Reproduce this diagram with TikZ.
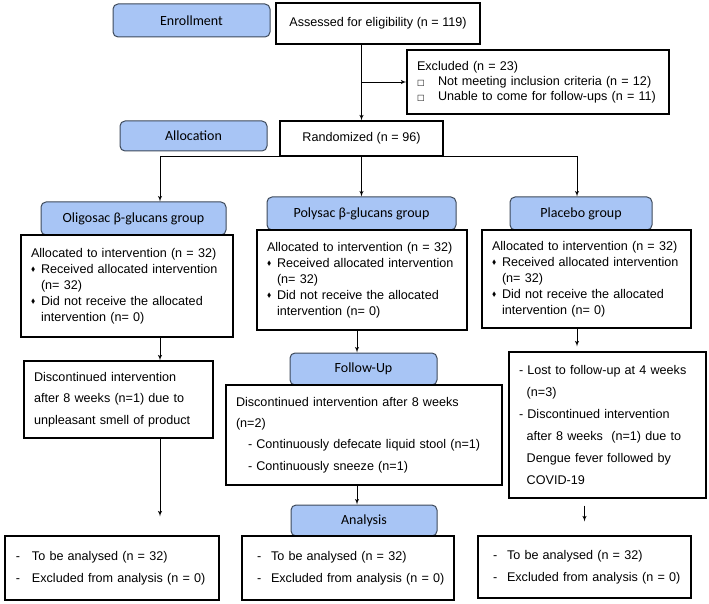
\documentclass[tikz,border=0pt]{standalone}
\usepackage{fontspec}
\usepackage{amssymb}
\setmainfont{Liberation Sans}
\newfontfamily\headfont{Carlito}
\newfontfamily\symfont{DejaVu Sans}
\usetikzlibrary{shapes,arrows,positioning,calc}
\definecolor{headblue}{RGB}{168,197,245}
\definecolor{headedge}{RGB}{62,74,90}
\newcommand{\dmd}{\makebox[10pt][l]{\raisebox{1.8pt}{\scalebox{0.5}{$\blacklozenge$}}}}
\newcommand{\sqb}{\makebox[21pt][l]{{\symfont\fontsize{8}{8}\selectfont □}}}
\newcommand{\dsh}[1]{\makebox[#1][l]{-}}

\begin{document}
\begin{tikzpicture}[
  x=1pt, y=-1pt,
  phase/.style={draw=headedge, fill=headblue, rounded corners=5pt, line width=1pt,
                inner sep=0pt, align=center, font=\headfont\fontsize{14}{16}\selectfont},
  panel/.style={draw, line width=1.1pt, fill=white, inner xsep=10pt, inner ysep=0pt,
                align=left, font=\fontsize{12.6}{16}\selectfont},
  result/.style={panel, inner xsep=6pt, minimum height=64pt, font=\fontsize{12.6}{22}\selectfont},
  arr/.style={-latex', line width=0.9pt},
]
\useasboundingbox (0,0) rectangle (709,604);

% enrollment
\node[phase, minimum width=157pt, minimum height=33pt] (enroll) at (191.5,20.5) {Enrollment};
\node[panel, align=center, minimum width=204pt, minimum height=41pt] (assess) at (378,23.5) {Assessed for eligibility (n = 119)};
\node[panel, text width=242pt, minimum height=64pt, font=\fontsize{12.6}{15}\selectfont] (excl) at (538,82)
  {Excluded (n = 23)\\ \sqb Not meeting inclusion criteria (n = 12)\\ \sqb Unable to come for follow-ups (n = 11)};

% allocation
\node[phase, minimum width=147pt, minimum height=30pt] (alloc) at (193.5,136) {Allocation};
\node[panel, align=center, minimum width=163pt, minimum height=35pt] (rand) at (361.5,138.5) {Randomized (n = 96)};

\node[phase, minimum width=185pt, minimum height=33pt] (ohead)  at (133.5,218.5) {Oligosac β-glucans group};
\node[phase, minimum width=189pt, minimum height=33pt] (phead)  at (361.5,213.5) {Polysac β-glucans group};
\node[phase, minimum width=142pt, minimum height=33pt] (plhead) at (581,213.5)   {Placebo group};

\node[panel, text width=192pt, minimum height=102pt] (obody) at (127,286)
  {Allocated to intervention (n = 32)\\ \dmd Received allocated intervention\\ \hspace*{10pt}(n= 32)\\
   \dmd Did not receive the allocated\\ \hspace*{10pt}intervention (n= 0)};
\node[panel, text width=190pt, minimum height=100pt] (pbody) at (362,280)
  {Allocated to intervention (n = 32)\\ \dmd Received allocated intervention\\ \hspace*{10pt}(n= 32)\\
   \dmd Did not receive the allocated\\ \hspace*{10pt}intervention (n= 0)};
\node[panel, text width=189pt, minimum height=98pt] (plbody) at (586.5,279)
  {Allocated to intervention (n = 32)\\ \dmd Received allocated intervention\\ \hspace*{10pt}(n= 32)\\
   \dmd Did not receive the allocated\\ \hspace*{10pt}intervention (n= 0)};

% follow-up
\node[panel, text width=169pt, minimum height=77pt, font=\fontsize{12.6}{21.5}\selectfont] (odisc) at (118.5,399.5)
  {Discontinued intervention\\ after 8 weeks (n=1) due to\\ unpleasant smell of product};
\node[phase, minimum width=147pt, minimum height=32pt] (follow) at (363.5,369) {Follow-Up};
\node[panel, text width=256pt, minimum height=100pt, font=\fontsize{12.6}{21.3}\selectfont] (pdisc) at (364,435)
  {Discontinued intervention after 8 weeks\\ (n=2)\\ \hspace*{12pt}- Continuously defecate liquid stool (n=1)\\
   \hspace*{12pt}- Continuously sneeze (n=1)};
\node[panel, text width=177pt, minimum height=146pt, font=\fontsize{12.6}{22}\selectfont] (pldisc) at (607.5,425)
  {- Lost to follow-up at 4 weeks\\ \hspace*{7.7pt}(n=3)\\ - Discontinued intervention\\
   \hspace*{7.7pt}after 8 weeks\ \ (n=1) due to\\ \hspace*{7.7pt}Dengue fever followed by\\ \hspace*{7.7pt}COVID-19};

% analysis
\node[phase, minimum width=146pt, minimum height=31pt] (analysis) at (364,520.5) {Analysis};
\node[result, text width=202pt] (ores) at (112,568)
  {\hspace*{5pt}\dsh{16pt}To be analysed (n = 32)\\ \hspace*{5pt}\dsh{16pt}Excluded from analysis (n = 0)};
\node[result, text width=200pt] (pres) at (348,568)
  {\hspace*{9pt}\dsh{14pt}To be analysed (n = 32)\\ \hspace*{9pt}\dsh{14pt}Excluded from analysis (n = 0)};
\node[result, text width=201pt, minimum height=62pt] (plres) at (584.5,567)
  {\hspace*{9pt}\dsh{14pt}To be analysed (n = 32)\\ \hspace*{9pt}\dsh{14pt}Excluded from analysis (n = 0)};

% connectors
\coordinate (splitL) at (160,156);
\coordinate (splitR) at (577,156);
\coordinate (axisP)  at (357,0);
\draw[arr] (rand.north |- assess.south) -- (rand.north);
\draw[arr] (rand.north |- excl.west) -- (excl.west);
\draw (splitL) -- (splitR);
\draw[arr] (splitL) -- (splitL |- ohead.north);
\draw[arr] (rand.south) -- (phead.north);
\draw[arr] (splitR) -- (splitR |- plhead.north);
\draw[arr] (splitL |- obody.south) -- (splitL |- odisc.north);
\draw[arr, shorten >=19pt] (splitL |- odisc.south) -- (splitL |- ores.north);
\draw[arr] (axisP |- pbody.south) -- (axisP |- follow.north);
\draw[arr] (axisP |- pdisc.south) -- (axisP |- analysis.north);
\draw[arr, shorten >=5pt] (splitR |- plbody.south) -- (splitR |- pldisc.north);
\draw[arr, shorten <=7pt, shorten >=14pt] (plres.north |- pldisc.south) -- (plres.north);

\end{tikzpicture}
\end{document}
